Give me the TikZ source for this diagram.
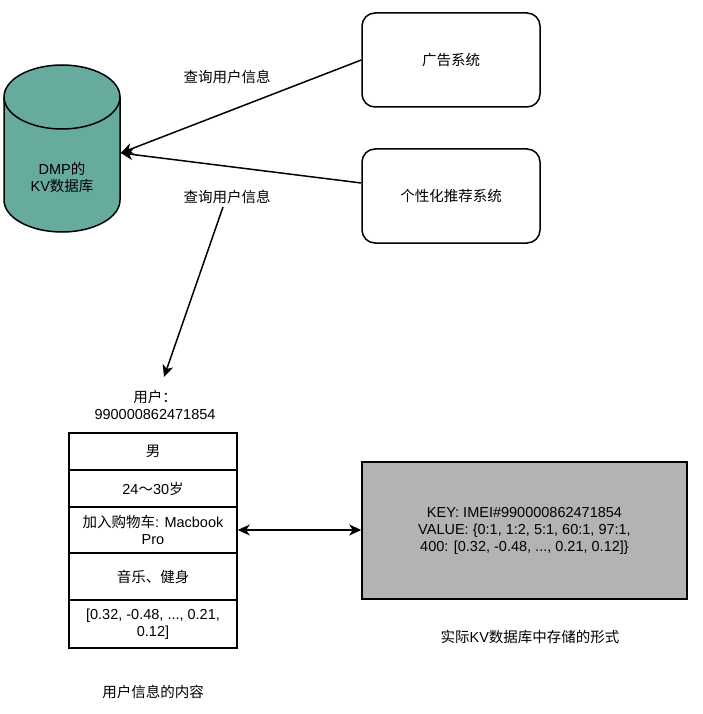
\documentclass[tikz,border=0pt]{standalone}
\usepackage{fontspec}
\setmainfont{Liberation Sans}
\newfontfamily\cjk{Noto Sans CJK SC}
\usetikzlibrary{arrows.meta}
\definecolor{teal1}{HTML}{67AB9F}
\definecolor{gray1}{HTML}{B3B3B3}
\tikzset{mytip/.tip={Stealth[length=12pt,width=11pt,inset=3.5pt]}}
\begin{document}
\begin{tikzpicture}[x=1pt,y=-1pt,
  every node/.style={font=\fontsize{14.5}{17}\selectfont, align=center, inner sep=0pt},
  sysbox/.style={draw, line width=1.5pt, rounded corners=13pt, minimum width=178pt, minimum height=94pt},
  cell/.style={draw, line width=1.5pt, minimum width=168pt},
  conn/.style={line width=1.5pt, -mytip}]
\useasboundingbox (0,0) rectangle (702,714);
% cylinder
\fill[teal1] (4,97) arc[start angle=180,end angle=360,x radius=58,y radius=32] -- (120,200) arc[start angle=0,end angle=180,x radius=58,y radius=32] -- cycle;
\draw[line width=1.5pt] (4,97) arc[start angle=180,end angle=-180,x radius=58,y radius=32];
\draw[line width=1.5pt] (4,97) -- (4,200) arc[start angle=180,end angle=0,x radius=58,y radius=32] -- (120,97);
\node[minimum width=117pt, minimum height=160pt] (db) at (62,153) {};
\node (dbtext) at (62,177) {DMP{\cjk 的}\\KV{\cjk 数据库}};
% systems
\node[sysbox] (ad) at (451,60) {\cjk 广告系统};
\node[sysbox] (rec) at (451,196) {\cjk 个性化推荐系统};
\draw[conn] (ad.west) -- (db.east);
\draw[conn] (rec.west |- 0,183) -- (db.east);
\node (l1) at (227,77) {\cjk 查询用户信息};
\node (l2) at (227,197) {\cjk 查询用户信息};
% user title
\node (ut) at (155,405) {{\cjk 用户：}\\990000862471854};
\draw[conn] (223,207) -- (164,377);
% table
\node[cell, minimum height=37pt] (r1) at (153,451.5) {\cjk 男};
\node[cell, minimum height=37pt] (r2) at (153,488.5) {24{\cjk ～}30{\cjk 岁}};
\node[cell, minimum height=46pt] (r3) at (153,530) {{\cjk 加入购物车}: Macbook\\Pro};
\node[cell, minimum height=47pt] (r4) at (153,576.5) {\cjk 音乐、健身};
\node[cell, minimum height=48pt] (r5) at (153,624) {[0.32, -0.48, ..., 0.21,\\0.12]};
\node (cap1) at (153,692) {\cjk 用户信息的内容};
% gray box
\node[draw, line width=1.5pt, fill=gray1, minimum width=325pt, minimum height=137pt] (kv) at (524.5,530.5) {KEY: IMEI\#990000862471854\\VALUE: \{0:1, 1:2, 5:1, 60:1, 97:1,\\ 400: [0.32, -0.48, ..., 0.21, 0.12]\}};
\node (cap2) at (530,637) {{\cjk 实际}KV{\cjk 数据库中存储的形式}};
\draw[line width=1.5pt, mytip-mytip] (r3.east) -- (kv.west |- r3.east);
\end{tikzpicture}
\end{document}
